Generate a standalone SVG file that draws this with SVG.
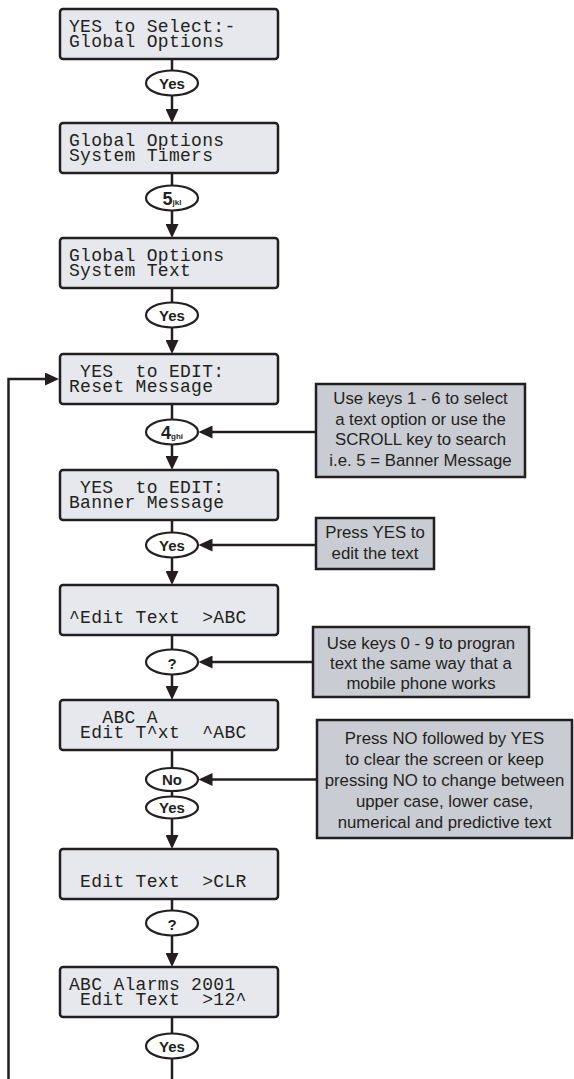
<svg xmlns="http://www.w3.org/2000/svg" width="574" height="1079" viewBox="0 0 574 1079">
<style>
.lcd{fill:#e6e8ed;stroke:#231f20;stroke-width:2.5}
.lt{font-family:"Liberation Mono",monospace;font-size:18px;letter-spacing:0.3px;fill:#231f20;white-space:pre}
.key{fill:#fff;stroke:#231f20;stroke-width:2.2}
.kt{font-family:"Liberation Sans",Arial,sans-serif;font-weight:bold;font-size:15px;fill:#231f20;text-anchor:middle}
.note{fill:#c9ccd3;stroke:#231f20;stroke-width:2.5}
.nt{font-family:"Liberation Sans",Arial,sans-serif;font-size:16.8px;fill:#231f20;text-anchor:middle}
.ln{fill:none;stroke:#231f20;stroke-width:2.5}
.arr{marker-end:url(#ah)}
</style>
<defs>
<marker id="ah" markerUnits="userSpaceOnUse" markerWidth="14" markerHeight="13" refX="6" refY="6.5" orient="auto">
<path d="M0,0 L14,6.5 L0,13 z" fill="#231f20"/>
</marker>
</defs>
<g id="connectors">
<path class="ln" d="M172,59 V70.5"/>
<path class="ln arr" d="M172,95.5 V115"/>
<path class="ln" d="M172,173 V185.5"/>
<path class="ln arr" d="M172,210.5 V230"/>
<path class="ln" d="M172,288 V302.5"/>
<path class="ln arr" d="M172,327.5 V346"/>
<path class="ln" d="M172,404 V419.5"/>
<path class="ln arr" d="M172,444.5 V462"/>
<path class="ln" d="M172,520 V532.5"/>
<path class="ln arr" d="M172,557.5 V577"/>
<path class="ln" d="M172,635 V649.5"/>
<path class="ln arr" d="M172,674.5 V692"/>
<path class="ln" d="M172,750 V768"/>
<path class="ln" d="M172,791 V796.5"/>
<path class="ln arr" d="M172,818.5 V841"/>
<path class="ln" d="M172,899 V910.5"/>
<path class="ln arr" d="M172,935.5 V959"/>
<path class="ln" d="M172,1017 V1033.5"/>
<path class="ln" d="M172,1058.5 V1079"/>
<path class="ln arr" d="M8.5,1079 V379 H51"/>
<path class="ln arr" d="M316,432 H206.5"/>
<path class="ln arr" d="M316,545 H206.5"/>
<path class="ln arr" d="M313,662 H206.5"/>
<path class="ln arr" d="M317,779.5 H206.5"/>
</g>
<g id="box1"><rect class="lcd" x="60" y="9" width="218" height="50" rx="3"/>
<text class="lt" x="69" y="31.5">YES to Select:-</text><text class="lt" x="69" y="46.5">Global Options</text></g>
<g id="key1"><ellipse class="key" cx="172" cy="83" rx="26" ry="12.5"/><text class="kt" x="172" y="88.5">Yes</text></g>
<g id="box2"><rect class="lcd" x="60" y="123" width="218" height="50" rx="3"/>
<text class="lt" x="69" y="145.5">Global Options</text><text class="lt" x="69" y="160.5">System Timers</text></g>
<g id="key2"><ellipse class="key" cx="172" cy="198" rx="26" ry="12.5"/><text class="kt" x="172" y="204.5"><tspan font-size="18">5</tspan><tspan font-size="8">jkl</tspan></text></g>
<g id="box3"><rect class="lcd" x="60" y="238" width="218" height="50" rx="3"/>
<text class="lt" x="69" y="260.5">Global Options</text><text class="lt" x="69" y="275.5">System Text</text></g>
<g id="key3"><ellipse class="key" cx="172" cy="315" rx="26" ry="12.5"/><text class="kt" x="172" y="320.5">Yes</text></g>
<g id="box4"><rect class="lcd" x="60" y="354" width="218" height="50" rx="3"/>
<text class="lt" x="69" y="376.5" xml:space="preserve"> YES  to EDIT:</text><text class="lt" x="69" y="391.5">Reset Message</text></g>
<g id="key4"><ellipse class="key" cx="172" cy="432" rx="26" ry="12.5"/><text class="kt" x="172" y="438.5"><tspan font-size="18">4</tspan><tspan font-size="8">ghi</tspan></text></g>
<g id="box5"><rect class="lcd" x="60" y="470" width="218" height="50" rx="3"/>
<text class="lt" x="69" y="492.5" xml:space="preserve"> YES  to EDIT:</text><text class="lt" x="69" y="507.5">Banner Message</text></g>
<g id="key5"><ellipse class="key" cx="172" cy="545" rx="26" ry="12.5"/><text class="kt" x="172" y="550.5">Yes</text></g>
<g id="box6"><rect class="lcd" x="60" y="585" width="218" height="50" rx="3"/>
<text class="lt" x="69" y="622.5" xml:space="preserve">^Edit Text  &gt;ABC</text></g>
<g id="key6"><ellipse class="key" cx="172" cy="662" rx="26" ry="12.5"/><text class="kt" x="172" y="668.5" font-size="18">?</text></g>
<g id="box7"><rect class="lcd" x="60" y="700" width="218" height="50" rx="3"/>
<text class="lt" x="69" y="722.5" xml:space="preserve">   ABC A</text><text class="lt" x="69" y="737.5" xml:space="preserve"> Edit T^xt  ^ABC</text></g>
<g id="key7"><ellipse class="key" cx="172" cy="779.5" rx="26" ry="11.5"/><text class="kt" x="172" y="785">No</text></g>
<g id="key8"><ellipse class="key" cx="172" cy="807.5" rx="26" ry="11"/><text class="kt" x="172" y="813">Yes</text></g>
<g id="box8"><rect class="lcd" x="60" y="849" width="218" height="50" rx="3"/>
<text class="lt" x="69" y="886.5" xml:space="preserve"> Edit Text  &gt;CLR</text></g>
<g id="key9"><ellipse class="key" cx="172" cy="923" rx="26" ry="12.5"/><text class="kt" x="172" y="929.5" font-size="18">?</text></g>
<g id="box9"><rect class="lcd" x="60" y="967" width="218" height="50" rx="3"/>
<text class="lt" x="69" y="989.5">ABC Alarms 2001</text><text class="lt" x="69" y="1004.5" xml:space="preserve"> Edit Text  &gt;12^</text></g>
<g id="key10"><ellipse class="key" cx="172" cy="1046" rx="26" ry="12.5"/><text class="kt" x="172" y="1051.5">Yes</text></g>
<g id="note1"><rect class="note" x="316" y="384" width="209" height="93"/>
<text class="nt" x="420.5" y="404">Use keys 1 - 6 to select</text>
<text class="nt" x="420.5" y="424.5">a text option or use the</text>
<text class="nt" x="420.5" y="445">SCROLL key to search</text>
<text class="nt" x="420.5" y="465.5">i.e. 5 = Banner Message</text></g>
<g id="note2"><rect class="note" x="316" y="518" width="118" height="51"/>
<text class="nt" x="375" y="538">Press YES to</text>
<text class="nt" x="375" y="559">edit the text</text></g>
<g id="note3"><rect class="note" x="313" y="627" width="216" height="70"/>
<text class="nt" x="421" y="649">Use keys 0 - 9 to progran</text>
<text class="nt" x="421" y="669">text the same way that a</text>
<text class="nt" x="421" y="689">mobile phone works</text></g>
<g id="note4"><rect class="note" x="317" y="720" width="255" height="118"/>
<text class="nt" x="444.5" y="744">Press NO followed by YES</text>
<text class="nt" x="444.5" y="765">to clear the screen or keep</text>
<text class="nt" x="444.5" y="786">pressing NO to change between</text>
<text class="nt" x="444.5" y="807">upper case, lower case,</text>
<text class="nt" x="444.5" y="828">numerical and predictive text</text></g>
</svg>
